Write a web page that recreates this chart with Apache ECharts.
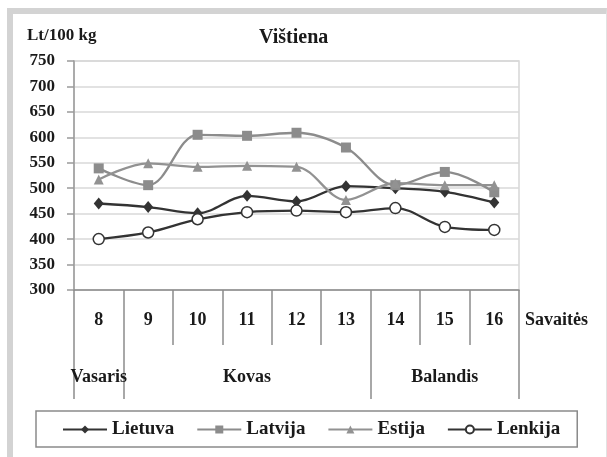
<!DOCTYPE html>
<html>
<head>
<meta charset="utf-8">
<script src="https://cdn.jsdelivr.net/npm/echarts@6.0.0/dist/echarts.min.js"></script>
<style>
    html, body { margin: 0; padding: 0; background: #fff; }
    #wrap { position: relative; width: 607px; height: 457px; overflow: hidden; }
    /* the grey frame of the scanned page */
    #frame {
        position: absolute; left: 7px; top: 8px; width: 593px; height: 460px;
        border-top: 6px solid #d3d3d3; border-left: 6px solid #d3d3d3; border-right: 1px solid #e2e2e2;
    }
    #main { position: absolute; left: 0; top: 0; width: 607px; height: 457px; }
</style>
</head>
<body>
<div id="wrap">
    <div id="frame"></div>
    <div id="main"></div>
</div>
<script type="text/javascript">
    // savaitės (weeks) and months
    var weeks = ['8', '9', '10', '11', '12', '13', '14', '15', '16'];
    var months = ['Vasaris', 'Kovas', 'Balandis'];
    var monthWeeks = [1, 5, 3];

    // Lt/100 kg
    var lietuva = [470, 463, 451, 485, 474, 504, 500, 493, 472];
    var latvija = [539, 506, 605, 603, 609, 580, 506, 532, 492];
    var estija  = [517, 549, 542, 544, 542, 477, 510, 506, 506];
    var lenkija = [400, 413, 439, 453, 456, 453, 461, 424, 418];

    var yTicks = [300, 350, 400, 450, 500, 550, 600, 650, 700, 750];

    // month borders and centres on a 0..9 scale
    var monthBorders = [0];
    var monthCentres = [];
    monthWeeks.forEach(function (n, i) {
        var start = monthBorders[i];
        monthBorders.push(start + n);
        monthCentres.push(start + n / 2);
    });

    var serif = '"Liberation Serif", "Times New Roman", serif';
    var boldText = { fontFamily: serif, fontWeight: 'bold', color: '#1a1a1a' };

    var myChart = echarts.init(document.getElementById('main'));

    var option = {
        animation: false,
        title: [{
            text: 'Vištiena',
            left: 254,
            top: 23,
            textStyle: Object.assign({ fontSize: 20 }, boldText)
        }, {
            text: 'Lt/100 kg',
            left: 22,
            top: 22,
            textStyle: Object.assign({ fontSize: 17 }, boldText)
        }, {
            // axis title of the week row
            text: 'Savaitės',
            left: 520,
            top: 306,
            textStyle: Object.assign({ fontSize: 18 }, boldText)
        }],
        grid: {
            left: 74,
            right: 88,
            top: 61,
            bottom: 167,
            show: true,
            borderColor: '#d6d6d6',
            borderWidth: 1.5
        },
        legend: {
            left: 36,
            top: 411,
            padding: [9, 17, 8, 26],
            borderColor: '#8a8a8a',
            borderWidth: 1.5,
            itemWidth: 44,
            itemHeight: 10,
            itemGap: 22,
            textStyle: Object.assign({ fontSize: 19 }, boldText),
            data: ['Lietuva', 'Latvija', 'Estija', 'Lenkija']
        },
        xAxis: [{
            type: 'category',
            data: weeks,
            boundaryGap: true,
            axisLine: { lineStyle: { color: '#8c8c8c', width: 1.5 } },
            axisTick: { show: true, length: 55, lineStyle: { color: '#8c8c8c', width: 1.5 } },
            axisLabel: Object.assign({
                interval: 0,
                margin: 30,
                verticalAlign: 'middle',
                fontSize: 18
            }, boldText)
        }, {
            type: 'value',
            min: 0,
            max: weeks.length,
            position: 'bottom',
            axisLine: { show: false },
            splitLine: { show: false },
            axisTick: {
                show: true,
                length: 109,
                customValues: monthBorders,
                lineStyle: { color: '#8c8c8c', width: 1.5 }
            },
            axisLabel: Object.assign({
                customValues: monthCentres,
                margin: 87,
                verticalAlign: 'middle',
                formatter: function (v) {
                    return months[monthCentres.indexOf(v)];
                },
                fontSize: 18
            }, boldText)
        }],
        yAxis: {
            type: 'value',
            min: yTicks[0],
            max: yTicks[yTicks.length - 1],
            interval: 50,
            axisLine: { show: true, lineStyle: { color: '#9a9a9a', width: 1.5 } },
            axisTick: { show: true, length: 7, lineStyle: { color: '#9a9a9a', width: 1.5 } },
            splitLine: { lineStyle: { color: '#d9d9d9', width: 1.5 } },
            axisLabel: Object.assign({ margin: 19, fontSize: 17 }, boldText)
        },
        series: [{
            name: 'Lietuva',
            type: 'line',
            data: lietuva,
            smooth: 0.35,
            symbol: 'diamond',
            symbolSize: [10, 12],
            lineStyle: { color: '#333', width: 2.3 },
            itemStyle: { color: '#333' }
        }, {
            name: 'Latvija',
            type: 'line',
            data: latvija,
            smooth: 0.35,
            symbol: 'rect',
            symbolSize: 10,
            lineStyle: { color: '#8c8c8c', width: 2.3 },
            itemStyle: { color: '#8c8c8c' }
        }, {
            name: 'Estija',
            type: 'line',
            data: estija,
            smooth: 0.35,
            symbol: 'triangle',
            symbolSize: 10,
            lineStyle: { color: '#929292', width: 2.3 },
            itemStyle: { color: '#929292' }
        }, {
            name: 'Lenkija',
            type: 'line',
            data: lenkija,
            smooth: 0.35,
            symbol: 'circle',
            symbolSize: 11,
            lineStyle: { color: '#333', width: 2.3 },
            itemStyle: { color: '#fff', borderColor: '#333', borderWidth: 1.5 }
        }]
    };

    myChart.setOption(option);
</script>
</body>
</html>
